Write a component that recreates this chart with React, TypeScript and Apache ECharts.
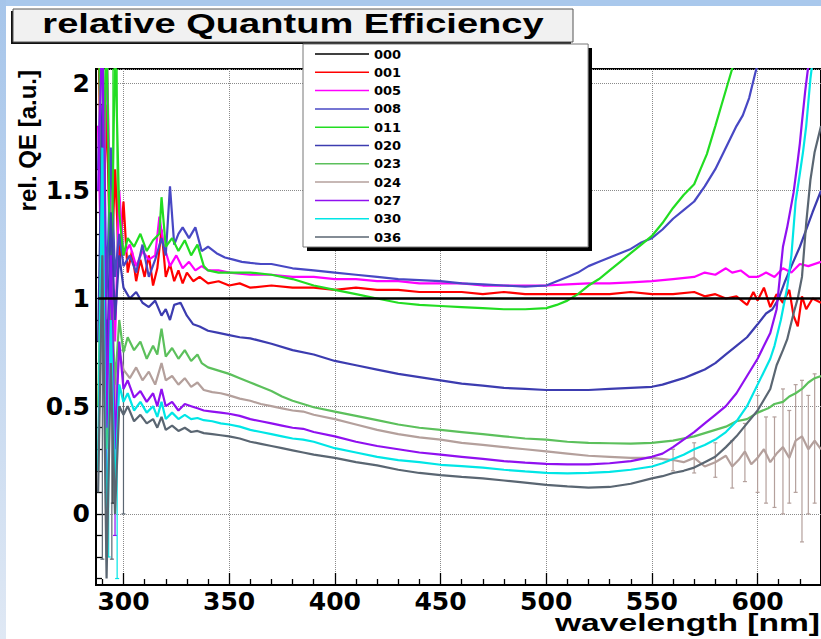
import React, { useEffect, useRef } from "react";
import * as echarts from "echarts";

// ---------- data (wavelength nm, relative QE) ----------
const NAMES = ["000", "001", "005", "008", "011", "020", "023", "024", "027", "030", "036"];

const S000 = [[288, 1], [300, 1], [350, 1], [400, 1], [450, 1], [500, 1], [550, 1], [600, 1], [610, 1], [620, 1], [630, 1]];
const S001 = [[288, 2.3], [290, 1.2], [292, 1.9], [294, 1.05], [296, 1.6], [298, 1.15], [300, 1.45], [302, 1.12], [304, 1.22], [306, 1.08], [308, 1.18], [310, 1.1], [312, 1.2], [314, 1.06], [316, 1.14], [318, 1.32], [320, 1.1], [322, 1.16], [324, 1.08], [326, 1.13], [328, 1.07], [330, 1.12], [333, 1.08], [336, 1.1], [340, 1.07], [345, 1.08], [350, 1.06], [355, 1.07], [360, 1.05], [370, 1.06], [380, 1.05], [390, 1.05], [400, 1.04], [410, 1.05], [420, 1.04], [430, 1.04], [440, 1.03], [450, 1.03], [460, 1.03], [470, 1.02], [480, 1.03], [490, 1.02], [500, 1.02], [510, 1.02], [520, 1.02], [530, 1.02], [540, 1.03], [550, 1.02], [560, 1.02], [570, 1.03], [575, 1.01], [580, 1.02], [585, 1.0], [590, 1.01], [595, 0.97], [598, 1.03], [600, 0.99], [603, 1.05], [606, 0.96], [609, 1.02], [612, 0.98], [615, 1.04], [617, 0.92], [619, 0.87], [621, 1.01], [623, 0.95], [626, 1.0], [630, 0.98]];
const S005 = [[288, 1.8], [290, 0.9], [292, 2.2], [294, 1.3], [296, 0.8], [298, 1.5], [300, 1.2], [303, 1.25], [306, 1.15], [309, 1.22], [312, 1.18], [315, 1.2], [317, 1.38], [319, 1.25], [322, 1.15], [325, 1.2], [328, 1.14], [331, 1.17], [334, 1.13], [337, 1.15], [340, 1.13], [345, 1.13], [350, 1.12], [360, 1.11], [370, 1.11], [380, 1.1], [390, 1.1], [400, 1.09], [410, 1.09], [420, 1.08], [430, 1.08], [440, 1.07], [450, 1.07], [460, 1.07], [470, 1.06], [480, 1.06], [490, 1.06], [500, 1.06], [510, 1.065], [520, 1.07], [530, 1.07], [540, 1.075], [550, 1.08], [560, 1.09], [570, 1.1], [575, 1.12], [580, 1.11], [585, 1.14], [588, 1.12], [592, 1.13], [596, 1.1], [600, 1.1], [604, 1.12], [608, 1.1], [612, 1.14], [616, 1.12], [620, 1.16], [624, 1.15], [630, 1.17]];
const S008 = [[288, 1.6], [290, 2.3], [292, 1.0], [294, 1.7], [296, 1.1], [298, 1.3], [300, 1.15], [303, 1.2], [306, 1.12], [309, 1.25], [312, 1.1], [315, 1.18], [318, 1.28], [320, 1.2], [322, 1.52], [324, 1.25], [326, 1.3], [328, 1.33], [331, 1.28], [334, 1.33], [337, 1.22], [340, 1.24], [344, 1.21], [348, 1.19], [352, 1.18], [356, 1.17], [360, 1.165], [365, 1.16], [370, 1.16], [380, 1.14], [390, 1.13], [400, 1.12], [410, 1.11], [420, 1.1], [430, 1.09], [440, 1.085], [450, 1.08], [460, 1.07], [470, 1.065], [480, 1.06], [490, 1.055], [500, 1.06], [505, 1.08], [510, 1.1], [515, 1.12], [520, 1.15], [525, 1.17], [530, 1.19], [535, 1.21], [540, 1.23], [545, 1.26], [550, 1.28], [555, 1.32], [560, 1.37], [565, 1.41], [570, 1.45], [575, 1.52], [580, 1.6], [584, 1.68], [587, 1.74], [590, 1.8], [593, 1.85], [596, 1.93], [599, 2.05], [602, 2.15]];
const S011 = [[288, 2.4], [290, 1.3], [292, 2.3], [294, 0.9], [296, 2.2], [298, 1.4], [300, 1.2], [302, 1.28], [305, 1.24], [308, 1.3], [311, 1.22], [314, 1.27], [317, 1.3], [318, 1.47], [320, 1.24], [323, 1.28], [326, 1.22], [329, 1.27], [332, 1.2], [335, 1.25], [338, 1.15], [340, 1.13], [345, 1.12], [350, 1.12], [360, 1.12], [370, 1.11], [380, 1.09], [390, 1.06], [400, 1.04], [410, 1.02], [420, 1.0], [430, 0.98], [440, 0.97], [450, 0.965], [460, 0.96], [470, 0.955], [480, 0.95], [490, 0.95], [500, 0.955], [505, 0.97], [510, 0.99], [515, 1.02], [520, 1.06], [525, 1.09], [530, 1.13], [535, 1.17], [540, 1.21], [545, 1.25], [550, 1.29], [555, 1.35], [560, 1.42], [565, 1.48], [570, 1.53], [573, 1.6], [576, 1.67], [580, 1.8], [583, 1.9], [586, 2.0], [589, 2.1]];
const S020 = [[288, 0.8], [290, 1.9], [292, 0.6], [294, 1.4], [296, 0.9], [298, 1.2], [300, 1.05], [303, 1.0], [306, 1.03], [309, 0.98], [312, 0.96], [315, 0.99], [318, 0.92], [320, 0.95], [322, 0.9], [324, 0.97], [327, 0.98], [330, 0.92], [333, 0.88], [336, 0.87], [340, 0.85], [345, 0.84], [350, 0.83], [355, 0.82], [360, 0.815], [370, 0.79], [380, 0.76], [390, 0.74], [400, 0.71], [410, 0.69], [420, 0.67], [430, 0.65], [440, 0.635], [450, 0.62], [460, 0.605], [470, 0.595], [480, 0.585], [490, 0.58], [500, 0.575], [510, 0.575], [520, 0.575], [530, 0.58], [540, 0.585], [550, 0.59], [555, 0.6], [560, 0.615], [565, 0.63], [570, 0.65], [575, 0.67], [580, 0.7], [585, 0.74], [590, 0.78], [595, 0.82], [600, 0.88], [604, 0.93], [607, 0.95], [610, 1.0], [613, 1.08], [616, 1.15], [620, 1.24], [623, 1.32], [626, 1.4], [630, 1.5]];
const S023 = [[288, 0.5], [290, 1.5], [292, 0.3], [294, 1.1], [296, 0.6], [298, 0.9], [300, 0.75], [302, 0.82], [305, 0.76], [308, 0.8], [311, 0.72], [314, 0.78], [316, 0.74], [318, 0.86], [320, 0.73], [323, 0.77], [326, 0.72], [329, 0.76], [332, 0.71], [335, 0.74], [337, 0.7], [340, 0.68], [345, 0.665], [350, 0.65], [355, 0.63], [360, 0.61], [365, 0.59], [370, 0.57], [375, 0.545], [380, 0.525], [385, 0.51], [390, 0.495], [400, 0.475], [410, 0.455], [420, 0.435], [430, 0.415], [440, 0.4], [450, 0.39], [460, 0.38], [470, 0.37], [480, 0.36], [490, 0.35], [500, 0.345], [510, 0.335], [520, 0.33], [530, 0.328], [540, 0.326], [550, 0.33], [560, 0.34], [570, 0.36], [580, 0.39], [585, 0.405], [590, 0.43], [595, 0.44], [600, 0.47], [605, 0.49], [608, 0.51], [612, 0.52], [615, 0.545], [618, 0.56], [621, 0.58], [624, 0.61], [627, 0.63], [630, 0.64]];
const S024 = [[288, 0.3], [290, 1.1], [292, 0.45], [294, 0.9], [296, 0.5], [298, 0.75], [300, 0.67], [303, 0.63], [306, 0.68], [309, 0.62], [312, 0.66], [315, 0.6], [318, 0.7], [320, 0.62], [323, 0.64], [326, 0.6], [329, 0.63], [332, 0.59], [335, 0.61], [338, 0.575], [342, 0.565], [346, 0.56], [350, 0.55], [355, 0.535], [360, 0.525], [365, 0.51], [370, 0.5], [375, 0.49], [380, 0.48], [385, 0.475], [390, 0.46], [400, 0.44], [410, 0.415], [420, 0.39], [430, 0.37], [440, 0.355], [450, 0.345], [460, 0.33], [470, 0.32], [480, 0.31], [490, 0.3], [500, 0.29], [510, 0.28], [520, 0.27], [530, 0.265], [540, 0.26], [550, 0.26], [560, 0.25], [565, 0.24], [570, 0.26], [575, 0.22], [580, 0.24], [585, 0.27], [588, 0.22], [591, 0.25], [594, 0.29], [597, 0.23], [600, 0.26], [603, 0.3], [606, 0.24], [609, 0.28], [612, 0.31], [615, 0.26], [618, 0.34], [621, 0.36], [624, 0.3], [627, 0.34], [630, 0.3]];
const S027 = [[288, 1.5], [290, 2.3], [292, 0.4], [294, 1.2], [296, 0.3], [298, 0.8], [300, 0.58], [302, 0.62], [305, 0.54], [308, 0.57], [311, 0.52], [314, 0.56], [316, 0.5], [318, 0.58], [320, 0.5], [323, 0.52], [326, 0.48], [329, 0.51], [332, 0.5], [335, 0.49], [338, 0.48], [342, 0.475], [346, 0.47], [350, 0.465], [355, 0.455], [360, 0.44], [365, 0.43], [370, 0.42], [375, 0.41], [380, 0.4], [385, 0.395], [390, 0.38], [400, 0.36], [410, 0.335], [420, 0.315], [430, 0.3], [440, 0.285], [450, 0.275], [460, 0.265], [470, 0.255], [480, 0.245], [490, 0.238], [500, 0.232], [510, 0.23], [520, 0.23], [530, 0.235], [540, 0.245], [550, 0.265], [555, 0.28], [560, 0.31], [565, 0.345], [570, 0.38], [575, 0.42], [580, 0.46], [585, 0.5], [590, 0.56], [595, 0.64], [600, 0.72], [603, 0.78], [606, 0.84], [609, 0.95], [612, 1.24], [614, 1.33], [617, 1.49], [619, 1.64], [620, 1.72], [621, 1.82], [622.5, 1.96], [624, 2.08]];
const S030 = [[288, 0.2], [290, 1.7], [292, -0.2], [294, 0.9], [296, 0.1], [298, 0.6], [300, 0.52], [302, 0.56], [305, 0.48], [308, 0.52], [311, 0.47], [314, 0.5], [316, 0.45], [318, 0.52], [320, 0.44], [323, 0.47], [326, 0.44], [329, 0.46], [332, 0.44], [335, 0.445], [338, 0.435], [342, 0.43], [346, 0.42], [350, 0.415], [355, 0.405], [360, 0.39], [365, 0.38], [370, 0.37], [375, 0.36], [380, 0.35], [385, 0.345], [390, 0.335], [400, 0.305], [410, 0.285], [420, 0.265], [430, 0.25], [440, 0.24], [450, 0.228], [460, 0.222], [470, 0.215], [480, 0.205], [490, 0.197], [500, 0.19], [510, 0.188], [520, 0.19], [530, 0.195], [540, 0.205], [550, 0.22], [555, 0.235], [560, 0.255], [565, 0.275], [570, 0.3], [575, 0.32], [580, 0.345], [585, 0.38], [590, 0.43], [595, 0.5], [600, 0.6], [603, 0.66], [606, 0.72], [608, 0.78], [611, 0.9], [614, 1.05], [616, 1.2], [618, 1.45], [620, 1.58], [621.5, 1.68], [623, 1.8], [625, 2.02], [626, 2.1]];
const S036 = [[288, 0.1], [290, 1.2], [292, -0.3], [294, 0.7], [296, 0.0], [298, 0.5], [300, 0.46], [302, 0.5], [305, 0.43], [308, 0.46], [311, 0.42], [314, 0.44], [316, 0.4], [318, 0.45], [320, 0.39], [323, 0.41], [326, 0.385], [329, 0.4], [332, 0.38], [335, 0.385], [338, 0.375], [342, 0.37], [346, 0.365], [350, 0.36], [355, 0.35], [360, 0.335], [365, 0.325], [370, 0.315], [375, 0.305], [380, 0.295], [385, 0.285], [390, 0.275], [400, 0.26], [410, 0.24], [420, 0.225], [430, 0.205], [440, 0.19], [450, 0.18], [460, 0.172], [470, 0.165], [480, 0.155], [490, 0.145], [500, 0.135], [510, 0.128], [520, 0.122], [530, 0.125], [540, 0.14], [550, 0.165], [555, 0.175], [560, 0.19], [565, 0.2], [570, 0.215], [575, 0.24], [580, 0.265], [585, 0.31], [590, 0.36], [595, 0.42], [600, 0.48], [603, 0.53], [606, 0.58], [609, 0.69], [612, 0.76], [614, 0.81], [617, 0.93], [619, 1.0], [621, 1.1], [623, 1.35], [625, 1.55], [627, 1.68], [630, 1.8]];

// error bars: [nm, low, high]
const E011 = [[290, 1.18, 2.2], [295, 0.6, 2.2], [297, 1.0, 2.2]];
const E024 = [[560, 0.2, 0.3], [570, 0.19, 0.33], [580, 0.17, 0.33], [588, 0.12, 0.34], [594, 0.15, 0.42], [600, 0.1, 0.55], [604, 0.05, 0.45], [608, 0.03, 0.45], [612, 0.0, 0.58], [615, 0.05, 0.48], [618, 0.1, 0.6], [621, -0.13, 0.62], [624, 0.0, 0.55], [627, 0.05, 0.65]];
const E027 = [[292, 0.1, 0.9], [296, -0.1, 0.7]];
const E030 = [[293, -0.2, 0.8], [297, -0.3, 0.6]];
const E036 = [[290, -0.21, 1.18], [294.5, -0.21, 0.76], [300, 0.0, 0.76]];
const E000 = [[295, 0.05, 0.56]];

// axis ranges and minor tick values
const X_MIN = 287;
const X_MAX = 630;
const Y_MIN = -0.33;
const Y_MAX = 2.065;
const X_MINOR = [290, 310, 320, 330, 340, 360, 370, 380, 390, 410, 420, 430, 440, 460, 470, 480, 490, 510, 520, 530, 540, 560, 570, 580, 590, 610, 620];
const Y_MINOR = [-0.3, -0.2, -0.1, 0.1, 0.2, 0.3, 0.4, 0.6, 0.7, 0.8, 0.9, 1.1, 1.2, 1.3, 1.4, 1.6, 1.7, 1.8, 1.9];

const TITLE = "relative Quantum Efficiency";
const X_NAME = "wavelength [nm]";
const Y_NAME = "rel. QE [a.u.]";

const SERIES_DATA = [S000, S001, S005, S008, S011, S020, S023, S024, S027, S030, S036];
const COLORS = ["#000000", "#ff0000", "#ff00ff", "#4848c4", "#22dd22", "#3c3cb0", "#5cc05c", "#b4a09c", "#9010f0", "#00e6e6", "#5a6672"];

export default function App() {
  const ref = useRef<HTMLDivElement>(null);

  useEffect(() => {
    if (!ref.current) return;
    const chart = echarts.init(ref.current, null, { renderer: "svg" });

    const labelFont = { fontFamily: "DejaVu Sans", fontWeight: "bold" as const, fontSize: 25, color: "#000" };

    const lineSeries = NAMES.map((n, i) => ({
      name: n,
      type: "line",
      data: SERIES_DATA[i],
      symbol: "none",
      lineStyle: { color: COLORS[i], width: i === 0 ? 2.4 : 2.2 },
      itemStyle: { color: COLORS[i] },
      z: i === 0 ? 3 : 2,
      clip: true,
      silent: true,
      emphasis: { disabled: true },
    }));

    const errSeries = (data: number[][], color: string) => ({
      type: "custom",
      data,
      clip: true,
      silent: true,
      encode: { x: 0, y: [1, 2] },
      renderItem: (params: any, api: any) => {
        const x = api.value(0);
        const p1 = api.coord([x, api.value(1)]);
        const p2 = api.coord([x, api.value(2)]);
        const st = { stroke: color, lineWidth: 1.2 };
        return {
          type: "group",
          children: [
            { type: "line", shape: { x1: p1[0], y1: p1[1], x2: p2[0], y2: p2[1] }, style: st },
            { type: "line", shape: { x1: p1[0] - 2, y1: p1[1], x2: p1[0] + 2, y2: p1[1] }, style: st },
            { type: "line", shape: { x1: p2[0] - 2, y1: p2[1], x2: p2[0] + 2, y2: p2[1] }, style: st },
          ],
        };
      },
      z: 2,
    });

    const tickStyle = { color: "#000", width: 1.3 };

    chart.setOption({
      animation: false,
      backgroundColor: "#ffffff",
      grid: { left: 96, top: 69, right: -9, bottom: 54, show: true, borderColor: "#000", borderWidth: 2, backgroundColor: "transparent" },
      xAxis: [
        {
          type: "value", min: X_MIN, max: X_MAX, minInterval: 50, maxInterval: 50, position: "bottom",
          axisLine: { show: true, onZero: false, lineStyle: { color: "#000", width: 2 } },
          axisTick: { show: true, inside: true, length: 12, lineStyle: tickStyle },
          axisLabel: { ...labelFont, margin: 4, showMinLabel: false, showMaxLabel: false },
          splitLine: { show: true, lineStyle: { color: "#8a8a8a", type: "dotted", width: 1 } },
        },
        {
          type: "value", min: X_MIN, max: X_MAX, position: "bottom",
          axisLine: { show: false, onZero: false },
          axisTick: { show: true, inside: true, length: 6, customValues: X_MINOR, lineStyle: tickStyle },
          axisLabel: { show: false },
          splitLine: { show: false },
        },
      ],
      yAxis: [
        {
          type: "value", min: Y_MIN, max: Y_MAX, minInterval: 0.5, maxInterval: 0.5, position: "left",
          axisLine: { show: true, onZero: false, lineStyle: { color: "#000", width: 2 } },
          axisTick: { show: true, inside: true, length: 11, lineStyle: tickStyle },
          axisLabel: { ...labelFont, margin: 6, showMinLabel: false, showMaxLabel: false },
          splitLine: { show: true, lineStyle: { color: "#8a8a8a", type: "dotted", width: 1 } },
        },
        {
          type: "value", min: Y_MIN, max: Y_MAX, position: "left",
          axisLine: { show: false, onZero: false },
          axisTick: { show: true, inside: true, length: 6, customValues: Y_MINOR, lineStyle: tickStyle },
          axisLabel: { show: false },
          splitLine: { show: false },
        },
      ],
      legend: {
        data: NAMES,
        orient: "vertical",
        left: 303,
        top: 44,
        icon: "rect",
        itemWidth: 54,
        itemHeight: 1.5,
        itemGap: 4.3,
        padding: [3, 187, 3, 12],
        backgroundColor: "#ffffff",
        borderColor: "#777",
        borderWidth: 1,
        selectedMode: false,
        textStyle: { fontFamily: "DejaVu Sans", fontWeight: "bold", fontSize: 13, color: "#000", lineHeight: 14, height: 14 },
        z: 6,
      },
      graphic: [
        { type: "rect", shape: { x: 0, y: 0, width: 821, height: 6 }, style: { fill: "#a9c8ec" }, z: 1, silent: true },
        {
          type: "rect", shape: { x: 0, y: 0, width: 6, height: 639 }, silent: true, z: 1,
          style: { fill: new echarts.graphic.LinearGradient(0, 0, 0, 1, [{ offset: 0, color: "#a6c5ea" }, { offset: 1, color: "#dfe8f4" }]) },
        },
        { type: "rect", shape: { x: 11, y: 11, width: 560, height: 33 }, style: { fill: "#111" }, z: 1, silent: true },
        { type: "rect", shape: { x: 13, y: 9, width: 560, height: 33 }, style: { fill: "#f1f1f1", stroke: "#555", lineWidth: 1 }, z: 1, silent: true },
        {
          type: "text", x: 293, y: 24, scaleX: 1.41, z: 2, silent: true,
          style: { text: TITLE, fontFamily: "Liberation Sans", fontWeight: "bold", fontSize: 27, fill: "#000", align: "center", verticalAlign: "middle" },
        },
        { type: "rect", shape: { x: 307, y: 48, width: 285, height: 203 }, style: { fill: "#000" }, z: 5, silent: true },
        {
          type: "text", x: 820, y: 623, scaleX: 1.4, z: 2, silent: true,
          style: { text: X_NAME, fontFamily: "Liberation Sans", fontWeight: "bold", fontSize: 24, fill: "#000", align: "right", verticalAlign: "middle" },
        },
        {
          type: "text", x: 27, y: 70, rotation: Math.PI / 2, z: 2, silent: true,
          style: { text: Y_NAME, fontFamily: "Liberation Sans", fontWeight: "bold", fontSize: 24, fill: "#000", align: "right", verticalAlign: "middle" },
        },
      ],
      series: [
        ...lineSeries,
        errSeries(E000, COLORS[0]),
        errSeries(E011, COLORS[4]),
        errSeries(E024, COLORS[7]),
        errSeries(E027, COLORS[8]),
        errSeries(E030, COLORS[9]),
        errSeries(E036, COLORS[10]),
      ],
    });

    return () => chart.dispose();
  }, []);

  return (
    <div
      ref={ref}
      style={{ position: "absolute", left: 0, top: 0, width: 821, height: 639, overflow: "hidden", background: "#fff" }}
    />
  );
}
